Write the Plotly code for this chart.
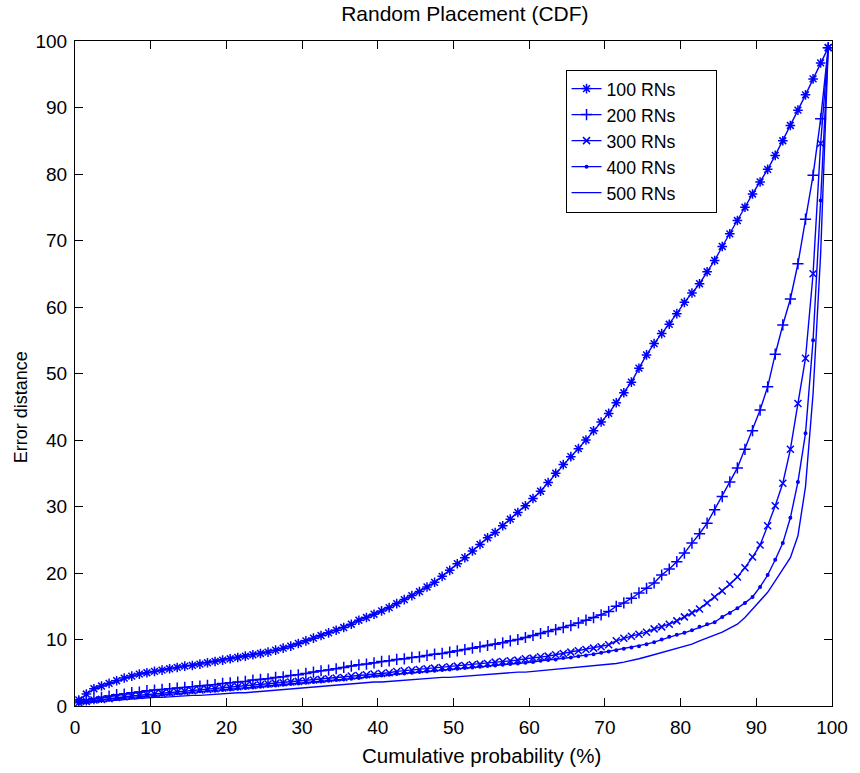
import plotly.graph_objects as go

# Cumulative probability grid (%), one sample per percentile
PROB = [k - 0.5 for k in range(1, 101)]

RN100 = [0.9, 1.8, 2.6, 3.0, 3.4, 3.8, 4.2, 4.5, 4.8, 5.0,
         5.2, 5.4, 5.6, 5.8, 6.0, 6.1, 6.3, 6.5, 6.7, 6.9,
         7.1, 7.3, 7.5, 7.7, 7.9, 8.1, 8.4, 8.7, 9.0, 9.4,
         9.8, 10.2, 10.6, 11.0, 11.4, 11.8, 12.3, 12.9, 13.3, 13.8,
         14.3, 14.8, 15.4, 16.0, 16.6, 17.2, 17.9, 18.6, 19.5, 20.4,
         21.4, 22.3, 23.3, 24.3, 25.3, 26.1, 27.1, 28.1, 29.1, 30.1,
         31.2, 32.3, 33.6, 35.0, 36.3, 37.5, 38.7, 40.0, 41.4, 42.7,
         44.0, 45.6, 47.1, 48.7, 50.8, 52.8, 54.5, 56.0, 57.4, 59.0,
         60.7, 62.1, 63.5, 65.3, 67.0, 69.1, 71.0, 73.0, 75.0, 77.0,
         78.8, 80.7, 82.8, 85.0, 87.3, 89.6, 91.9, 94.3, 96.7, 99.0]

RN200 = [0.6, 0.9, 1.1, 1.3, 1.5, 1.7, 1.8, 2.0, 2.1, 2.3,
         2.4, 2.5, 2.6, 2.7, 2.8, 2.9, 3.0, 3.1, 3.2, 3.4,
         3.5, 3.6, 3.7, 3.9, 4.0, 4.1, 4.3, 4.4, 4.6, 4.7,
         4.9, 5.1, 5.3, 5.4, 5.6, 5.8, 6.0, 6.2, 6.3, 6.5,
         6.7, 6.8, 7.0, 7.1, 7.3, 7.4, 7.6, 7.8, 7.9, 8.1,
         8.3, 8.5, 8.7, 8.9, 9.1, 9.3, 9.5, 9.8, 10.0, 10.3,
         10.6, 10.9, 11.2, 11.5, 11.8, 12.1, 12.5, 12.9, 13.3, 13.7,
         14.2, 15.0, 15.5, 16.2, 17.0, 17.7, 18.5, 19.7, 20.6, 21.7,
         23.0, 24.5, 25.9, 27.5, 29.5, 31.5, 33.7, 35.8, 38.6, 41.4,
         44.5, 48.0, 52.9, 57.3, 61.2, 66.5, 73.2, 79.8, 88.3, 99.0]

RN300 = [0.5, 0.7, 0.9, 1.0, 1.1, 1.3, 1.4, 1.5, 1.6, 1.7,
         1.8, 1.9, 2.0, 2.1, 2.2, 2.3, 2.4, 2.5, 2.6, 2.7,
         2.8, 2.9, 3.0, 3.1, 3.2, 3.3, 3.4, 3.5, 3.6, 3.7,
         3.8, 3.9, 4.0, 4.1, 4.2, 4.3, 4.5, 4.6, 4.7, 4.8,
         4.9, 5.0, 5.2, 5.3, 5.4, 5.5, 5.6, 5.7, 5.8, 5.9,
         6.0, 6.1, 6.2, 6.3, 6.4, 6.6, 6.7, 6.8, 6.9, 7.1,
         7.2, 7.4, 7.5, 7.7, 7.9, 8.1, 8.3, 8.5, 8.7, 8.9,
         9.2, 9.8, 10.2, 10.5, 10.8, 11.1, 11.6, 11.9, 12.3, 12.8,
         13.4, 14.0, 14.6, 15.5, 16.4, 17.3, 18.3, 19.4, 20.8, 22.4,
         24.2, 27.1, 30.1, 33.5, 38.6, 45.5, 52.3, 65.0, 84.6, 99.0]

RN400 = [0.4, 0.6, 0.8, 0.9, 1.0, 1.1, 1.2, 1.3, 1.4, 1.5,
         1.6, 1.7, 1.8, 1.9, 2.0, 2.1, 2.2, 2.3, 2.3, 2.4,
         2.5, 2.6, 2.7, 2.8, 2.9, 3.0, 3.1, 3.2, 3.3, 3.4,
         3.5, 3.6, 3.7, 3.8, 3.9, 4.0, 4.1, 4.2, 4.4, 4.5,
         4.6, 4.7, 4.8, 4.9, 5.0, 5.1, 5.2, 5.3, 5.4, 5.5,
         5.6, 5.7, 5.8, 5.9, 6.0, 6.1, 6.2, 6.3, 6.4, 6.5,
         6.6, 6.8, 6.9, 7.0, 7.2, 7.3, 7.5, 7.6, 7.8, 8.0,
         8.2, 8.4, 8.6, 8.8, 9.0, 9.3, 9.6, 10.0, 10.4, 10.7,
         11.0, 11.4, 11.9, 12.3, 12.6, 13.4, 14.0, 14.7, 15.5, 16.4,
         17.9, 19.7, 22.0, 24.5, 28.3, 33.7, 41.0, 55.0, 76.0, 99.0]

RN500 = [0.3, 0.5, 0.6, 0.7, 0.8, 0.9, 1.0, 1.1, 1.1, 1.2,
         1.3, 1.3, 1.4, 1.5, 1.5, 1.6, 1.6, 1.7, 1.8, 1.8,
         1.9, 2.0, 2.0, 2.1, 2.2, 2.3, 2.4, 2.5, 2.6, 2.7,
         2.8, 2.8, 2.9, 3.0, 3.1, 3.2, 3.3, 3.4, 3.5, 3.6,
         3.6, 3.7, 3.8, 3.9, 4.0, 4.0, 4.1, 4.2, 4.3, 4.3,
         4.4, 4.5, 4.6, 4.7, 4.8, 4.8, 4.9, 5.0, 5.1, 5.1,
         5.2, 5.3, 5.4, 5.5, 5.6, 5.7, 5.8, 5.9, 6.0, 6.1,
         6.3, 6.4, 6.6, 6.8, 7.1, 7.4, 7.7, 8.0, 8.3, 8.6,
         8.9, 9.3, 9.8, 10.2, 10.6, 11.1, 11.7, 12.3, 13.3, 14.6,
         15.8, 17.1, 18.8, 20.6, 22.3, 25.6, 33.0, 47.0, 68.0, 99.0]

SERIES = [
    ("100 RNs", RN100, "asterisk-open", 8),
    ("200 RNs", RN200, "cross-thin-open", 8),
    ("300 RNs", RN300, "x-thin-open", 7),
    ("400 RNs", RN400, "circle", 2.5),
    ("500 RNs", RN500, None, 0),
]

BLUE = "rgb(0,0,255)"
FONT = "Liberation Sans, Arial, Helvetica, sans-serif"
PAD = "\u00a0" * 7

fig = go.Figure()
for i, (name, vals, sym, size) in enumerate(SERIES):
    if sym is None:
        fig.add_trace(go.Scatter(x=PROB, y=vals, name=name + PAD, mode="lines",
                                 line=dict(color=BLUE, width=1.4)))
    else:
        fig.add_trace(go.Scatter(x=PROB, y=vals, name=name + PAD, mode="lines+markers",
                                 line=dict(color=BLUE, width=1.4),
                                 marker=dict(symbol=sym, size=size, color=BLUE,
                                             line=dict(color=BLUE, width=1.5))))

axis_common = dict(
    showline=True, linecolor="black", linewidth=1.2, mirror="ticks",
    ticks="inside", ticklen=8, tickcolor="black", tickwidth=1,
    showgrid=False, zeroline=False,
    tickfont=dict(family=FONT, size=19, color="black"),
    range=[0, 100], dtick=10, tick0=0,
)

fig.update_layout(
    width=860, height=773,
    margin=dict(l=75, r=22, t=41, b=67),
    paper_bgcolor="white", plot_bgcolor="white",
    title=dict(text="Random Placement (CDF)", x=0.515, xanchor="center",
               xref="paper", y=0.982, yanchor="middle",
               font=dict(family=FONT, size=21, color="black")),
    xaxis=dict(ticklabelstandoff=4, **axis_common),
    yaxis=dict(ticklabelstandoff=3, **axis_common),
    legend=dict(x=0.648, y=0.957, xanchor="left", yanchor="top",
                bgcolor="white", bordercolor="black", borderwidth=1,
                font=dict(family=FONT, size=17.7, color="black")),
    showlegend=True,
    annotations=[
        dict(text="Cumulative probability (%)", xref="paper", yref="paper",
             x=0.537, y=-0.074, xanchor="center", yanchor="middle",
             showarrow=False, font=dict(family=FONT, size=20.5, color="black")),
        dict(text="Error distance", xref="paper", yref="paper",
             x=-0.072, y=0.45, xanchor="center", yanchor="middle", textangle=-90,
             showarrow=False, font=dict(family=FONT, size=18, color="black")),
    ],
)

fig.write_html("out.html")
